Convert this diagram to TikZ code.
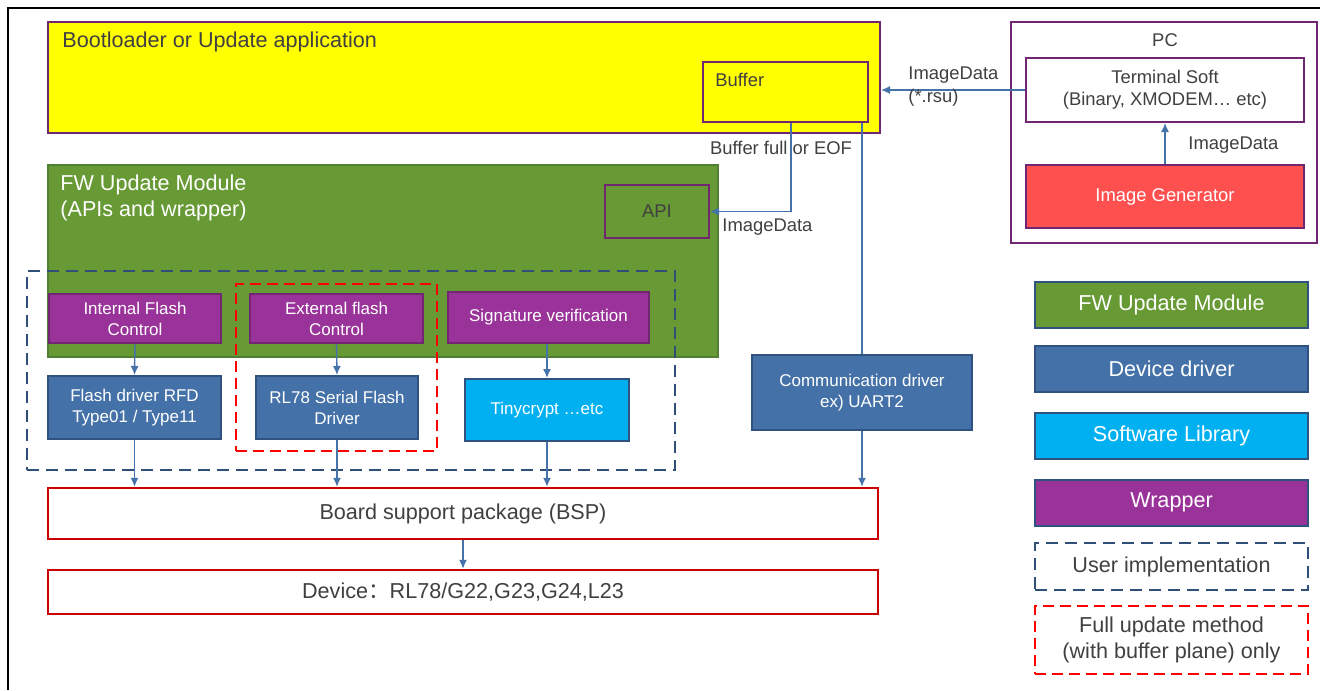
\documentclass[tikz,border=0pt]{standalone}
\usepackage{fontspec}
\setsansfont{Liberation Sans}
\newfontfamily\cjk{Noto Sans CJK SC}
\usetikzlibrary{arrows.meta, positioning, calc}

\definecolor{appyellow}{RGB}{255,255,0}
\definecolor{frmpurple}{RGB}{112,38,112}
\definecolor{modgreen}{RGB}{103,153,52}
\definecolor{modgreenD}{RGB}{80,126,50}
\definecolor{wrappurple}{RGB}{153,51,153}
\definecolor{drvblue}{RGB}{68,114,168}
\definecolor{drvblueD}{RGB}{47,82,128}
\definecolor{libcyan}{RGB}{0,176,240}
\definecolor{genred}{RGB}{255,80,80}
\definecolor{hwred}{RGB}{204,0,0}
\definecolor{fullred}{RGB}{255,0,0}
\definecolor{userblue}{RGB}{47,78,120}
\definecolor{txtgray}{RGB}{64,64,64}
\definecolor{arrblue}{RGB}{70,114,170}

\newcommand\fntL{\fontsize{10.8}{13}\selectfont}
\newcommand\fntM{\fontsize{9.2}{11.2}\selectfont}
\newcommand\fntS{\fontsize{8.5}{10.5}\selectfont}

\begin{document}
\begin{tikzpicture}[
		x=0.5pt, y=-0.5pt,
		font=\sffamily,
		% Box styles
		base/.style={draw, inner sep=2pt, align=center, line width=1pt},
		app/.style={base, fill=appyellow, draw=frmpurple},
		module/.style={base, fill=modgreen, draw=modgreenD, text=white},
		wrap/.style={base, fill=wrappurple, draw=frmpurple, text=white, font=\sffamily\fntS},
		drv/.style={base, fill=drvblue, draw=drvblueD, text=white, font=\sffamily\fntS},
		lib/.style={base, fill=libcyan, draw=drvblueD, text=white, font=\sffamily\fntS},
		pcbox/.style={base, fill=white, draw=frmpurple, text=txtgray, font=\sffamily\fntM},
		hw/.style={base, fill=white, draw=hwred, line width=1.2pt, text=txtgray, font=\sffamily\fntL},
		% Dashed groups
		user/.style={draw=userblue, dash pattern=on 6pt off 3.5pt, line width=1.2pt},
		full/.style={draw=fullred, dash pattern=on 5.5pt off 3pt, line width=1.4pt},
		% Legend entries
		legend/.style={base, draw=drvblueD, minimum width=136.5pt, minimum height=23pt, font=\sffamily\fntL},
		% Text and connectors
		lbl/.style={text=txtgray, inner sep=0pt, align=left, font=\sffamily\fntM},
		conn/.style={line width=0.7pt, draw=arrblue},
		arrow/.style={conn, ->, >={Latex[length=4.5pt,width=4pt]}}
		]
		\useasboundingbox (0,0) rectangle (1320,690);
		
		% --- 1. Frame ---
		\draw[line width=1.2pt] (1320,8) -- (8,8) -- (8,690);
		
		% --- 2. Bootloader and PC ---
		\node[app, minimum width=416pt, minimum height=55.5pt] (boot) at (464,77.5) {};
		\node[lbl, anchor=west, font=\sffamily\fntL] (boottxt) at (62,42) {Bootloader or Update application};
		\node[app, minimum width=82.5pt, minimum height=30pt] (buf) at (785.5,92) {};
		\node[lbl, anchor=west] (buftxt) at (715,80) {Buffer};
		
		\node[pcbox, minimum width=153pt, minimum height=110.5pt] (pc) at (1164,132.5) {};
		\node[lbl] (pctxt) at (1165,40) {PC};
		\node[pcbox, minimum width=139pt, minimum height=32pt] (term) at (1165,90) {Terminal Soft\\(Binary, XMODEM\dots\ etc)};
		\node[pcbox, fill=genred, text=white, minimum width=139pt, minimum height=31.5pt] (gen) at (1165,196.5) {Image Generator};
		
		% --- 3. FW Update Module ---
		\node[module, minimum width=335pt, minimum height=96pt] (fw) at (383,261) {};
		\node[lbl, text=white, anchor=west, font=\sffamily\fontsize{10.8}{13}\selectfont] (fwtxt) at (60,198) {FW Update Module\\(APIs and wrapper)};
		\node[module, draw=frmpurple, text=txtgray, font=\sffamily\fntM, minimum width=52pt, minimum height=26.5pt] (api) at (657,211.5) {API};
		
		% --- 4. Wrappers and drivers ---
		\node[wrap, minimum width=86pt, minimum height=24.5pt] (intc) at (135,318.5) {Internal Flash\\Control};
		\node[wrap, minimum width=86.5pt, minimum height=24.5pt] (extc) at (336.5,318.5) {External flash\\Control};
		\node[wrap, minimum width=100.5pt, minimum height=25.5pt] (sig) at (548.5,317.5) {Signature verification};
		
		\node[drv, minimum width=86.5pt, minimum height=31.5pt] (rfd) at (134.5,407.5) {Flash driver RFD\\Type01 / Type11};
		\node[drv, minimum width=81pt, minimum height=31.5pt] (sfd) at (337,407.5) {RL78 Serial Flash\\Driver};
		\node[lib, minimum width=82pt, minimum height=31pt] (tiny) at (547,410) {Tinycrypt \dots etc};
		\node[drv, minimum width=110pt, minimum height=37.5pt] (comm) at (862,392.5) {Communication driver\\ex) UART2};
		
		% --- 5. Dashed groups ---
		\node[user, minimum width=324pt, minimum height=99.5pt] (userimpl) at (351,370.5) {};
		\node[full, minimum width=100.5pt, minimum height=83.5pt] (fullupd) at (336.5,367.5) {};
		
		% --- 6. BSP and device ---
		\node[hw, minimum width=415pt, minimum height=25.5pt] (bsp) at (463,513.5) {Board support package (BSP)};
		\node[hw, minimum width=415pt, minimum height=22pt] (dev) at (463,592) {Device{\cjk ：}RL78/G22,G23,G24,L23};
		
		% --- 7. Connectors ---
		\draw[arrow] (term.west) -- (term.west -| boot.east);
		\draw[arrow] (gen.north) -- (term.south);
		\draw[arrow] ($(buf.south)+(5.5,0)$) |- (api.east);
		\draw[conn] (comm.north |- buf.south) -- (comm.north);
		\draw[arrow] (comm.south) -- (comm.south |- bsp.north);
		\draw[arrow] (intc.south) -- (rfd.north);
		\draw[arrow] (extc.south) -- (sfd.north);
		\draw[arrow] (tiny.north |- sig.south) -- (tiny.north);
		\draw[arrow] (rfd.south) -- (rfd.south |- bsp.north);
		\draw[arrow] (sfd.south) -- (sfd.south |- bsp.north);
		\draw[arrow] (tiny.south) -- (tiny.south |- bsp.north);
		\draw[arrow] (bsp.south) -- (dev.north);
		
		% --- 8. Connector labels ---
		\node[lbl, anchor=west, font=\sffamily\fontsize{9.2}{11.5}\selectfont] (rsulbl) at (908,86.5) {ImageData\\(*.rsu)};
		\node[lbl, anchor=west] (genlbl) at (1188,145) {ImageData};
		\node[lbl] (eoflbl) at (781,148) {Buffer full or EOF};
		\node[lbl, anchor=west] (apilbl) at (722,227) {ImageData};
		
		% --- 9. Legend ---
		\node[legend, fill=modgreen, text=white] (lgfw) at (1171.5,305) {FW Update Module};
		\node[legend, fill=drvblue, text=white] (lgdrv) at (1171.5,369) {Device driver};
		\node[legend, fill=libcyan, text=white] (lglib) at (1171.5,436) {Software Library};
		\node[legend, fill=wrappurple, text=white] (lgwrap) at (1171.5,502.5) {Wrapper};
		\node[legend, user, text=txtgray, minimum height=23.5pt] (lguser) at (1171.5,566.5) {User implementation};
		\node[legend, full, text=txtgray, minimum height=34pt] (lgfull) at (1171.5,640) {Full update method\\(with buffer plane) only};
		
	\end{tikzpicture}
\end{document}
